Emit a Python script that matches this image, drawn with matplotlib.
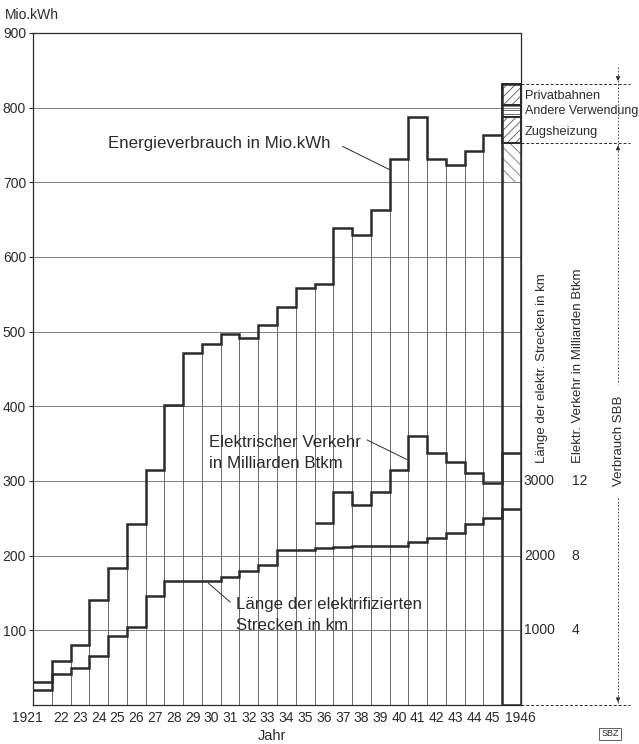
import numpy as np
import matplotlib
matplotlib.use("Agg")
import matplotlib.pyplot as plt

plt.rcParams["font.family"] = ["Liberation Sans", "DejaVu Sans"]
plt.rcParams["hatch.linewidth"] = 0.6

# --- data ---
years = list(range(1921, 1947))
year_labels = ["1921"] + [str(y)[2:] for y in range(1922, 1946)] + ["1946"]

# Energieverbrauch in Mio. kWh, 1921-1945
energy = [31, 59, 80, 140, 184, 243, 315, 402, 471, 484, 497, 491, 509,
          533, 558, 564, 639, 630, 663, 731, 787, 731, 723, 742, 764]

# Laenge der elektrifizierten Strecken in km, 1921-1946
length_km = [200, 415, 490, 656, 920, 1050, 1460, 1660, 1660, 1660, 1720,
             1800, 1870, 2075, 2075, 2100, 2120, 2130, 2130, 2130, 2186,
             2230, 2300, 2420, 2507, 2630]

# Elektrischer Verkehr in Milliarden Btkm, 1936-1946
traffic_start = 1936
traffic_btkm = [9.76, 11.4, 10.7, 11.4, 12.6, 14.4, 13.5, 13.0, 12.45, 11.9, 13.5]

# 1946 split of the consumption (Mio. kWh)
parts_1946 = ["Verbrauch SBB", "Zugsheizung", "Andere Verwendung", "Privatbahnen"]
values_1946 = [753, 35, 16, 28]
hatches_1946 = [None, "////", "----", "////"]

right_km = [1000, 2000, 3000]
right_btkm = [4, 8, 12]

ink = "#2b2b2b"
thin = "#6a6a6a"

fig = plt.figure(figsize=(6.39, 7.44), dpi=100)
ax = fig.add_axes([33 / 639, 39 / 744, 488 / 639, 672 / 744])
ax.set_xlim(0, 26)
ax.set_ylim(0, 900)

# horizontal grid
for v in range(100, 900, 100):
    ax.axhline(v, color=thin, lw=0.6, zorder=0)

n = len(energy)
edges = np.arange(n + 1)
# thin column outlines + thick top line
ax.bar(np.arange(n) + 0.5, energy, width=1, fill=False, edgecolor=thin, lw=0.6, zorder=1)
ax.stairs(energy, edges, baseline=None, color=ink, lw=1.8, zorder=3)

# length (1000 km = 100 on left scale)
ax.stairs(np.array(length_km) / 10, np.arange(len(length_km) + 1),
          baseline=None, color=ink, lw=1.8, zorder=3)

# traffic (4 Mrd Btkm = 100 on left scale)
i0 = traffic_start - years[0]
ax.stairs(np.array(traffic_btkm) * 25, np.arange(i0, i0 + len(traffic_btkm) + 1),
          baseline=None, color=ink, lw=1.8, zorder=3)

# 1946 column
x46 = n + 0.5
bottoms = np.cumsum([0] + values_1946[:-1])
for val, bot, h in zip(values_1946, bottoms, hatches_1946):
    if h:
        ax.bar(x46, val, bottom=bot, width=1, facecolor="none", edgecolor="#555555",
               hatch=h, lw=0, zorder=2)
        ax.bar(x46, val, bottom=bot, width=1, fill=False, edgecolor=ink, lw=1.4, zorder=3)
ax.bar(x46, 53, bottom=values_1946[0] - 53, width=1, facecolor="none",
       edgecolor="#777777", hatch="\\\\\\", lw=0, zorder=2)
total46 = sum(values_1946)
ax.bar(x46, total46, width=1, fill=False, edgecolor=ink, lw=1.8, zorder=4)

# spines / ticks
for s in ax.spines.values():
    s.set_color(ink)
    s.set_linewidth(0.9)
ax.set_yticks(range(100, 1000, 100))
ax.set_yticklabels([str(v) for v in range(100, 1000, 100)])
ax.tick_params(axis="y", length=3, pad=2, labelsize=10, colors=ink)
ax.set_xticks([])

for i, lab in enumerate(year_labels):
    if i == 0:
        ax.text(0.5, -17, lab, ha="right", va="center", fontsize=10, color=ink, clip_on=False)
    elif i == len(year_labels) - 1:
        ax.text(25.15, -17, lab, ha="left", va="center", fontsize=10, color=ink, clip_on=False)
    else:
        ax.text(i + 0.5, -17, lab, ha="center", va="center", fontsize=10, color=ink, clip_on=False)

# right-hand scales
for km, bt in zip(right_km, right_btkm):
    y = km / 10
    ax.text(26.15, y, str(km), ha="left", va="center", fontsize=10, color=ink, clip_on=False)
    ax.text(28.7, y, str(bt), ha="left", va="center", fontsize=10, color=ink, clip_on=False)

ax.text(27.1, 451, "Länge der elektr. Strecken in km", rotation=90, ha="center",
        va="center", fontsize=9.5, color=ink, clip_on=False)
ax.text(29.05, 454, "Elektr. Verkehr in Milliarden Btkm", rotation=90, ha="center",
        va="center", fontsize=9.5, color=ink, clip_on=False)
ax.text(31.2, 354, "Verbrauch SBB", rotation=90, ha="center", va="center",
        fontsize=9.5, color=ink, clip_on=False)

# dimension lines
xd = 31.17
dash = dict(color=ink, lw=0.7, ls=(0, (3, 2)), clip_on=False)
ax.plot([26, 31.8], [total46, total46], **dash)
ax.plot([26, 31.8], [values_1946[0], values_1946[0]], **dash)
ax.plot([26, 31.8], [0, 0], **dash)
ax.plot([xd, xd], [855, 430], color=ink, lw=0.6, ls=(0, (2, 2)), clip_on=False)
ax.plot([xd, xd], [277, 0], color=ink, lw=0.6, ls=(0, (2, 2)), clip_on=False)
arr = dict(arrowstyle="-|>", color=ink, lw=0.6, mutation_scale=6)
ax.annotate("", xy=(xd, total46), xytext=(xd, total46 + 14), arrowprops=arr, annotation_clip=False)
ax.annotate("", xy=(xd, values_1946[0]), xytext=(xd, values_1946[0] - 14), arrowprops=arr, annotation_clip=False)
ax.annotate("", xy=(xd, 0), xytext=(xd, 14), arrowprops=arr, annotation_clip=False)

# 1946 legend
ax.text(26.2, 816, "Privatbahnen", ha="left", va="center", fontsize=9.2, color=ink, clip_on=False)
ax.text(26.2, 795, "Andere Verwendung", ha="left", va="center", fontsize=9.0, color=ink, clip_on=False)
ax.text(26.2, 768, "Zugsheizung", ha="left", va="center", fontsize=9.2, color=ink, clip_on=False)

# annotations with leader lines
ax.text(4.0, 752, "Energieverbrauch in Mio.kWh", ha="left", va="center", fontsize=12.2, color=ink)
ax.plot([16.5, 19.0], [748, 717], color=ink, lw=0.7)
ax.text(9.4, 351, "Elektrischer Verkehr", ha="left", va="center", fontsize=12.2, color=ink)
ax.text(9.4, 324, "in Milliarden Btkm", ha="left", va="center", fontsize=12.2, color=ink)
ax.plot([17.8, 19.9], [355, 329], color=ink, lw=0.7)
ax.text(10.8, 135, "Länge der elektrifizierten", ha="left", va="center", fontsize=12.2, color=ink)
ax.text(10.8, 107, "Strecken in km", ha="left", va="center", fontsize=12.2, color=ink)
ax.plot([10.5, 9.35], [138, 163], color=ink, lw=0.7)

fig.text(5 / 639, 1 - 15 / 744, "Mio.kWh", ha="left", va="center", fontsize=10, color=ink)
fig.text(272 / 639, 1 - 736 / 744, "Jahr", ha="center", va="center", fontsize=10.5, color=ink)
fig.text(610 / 639, 1 - 734 / 744, "SBZ", ha="center", va="center", fontsize=6.5, color=ink,
         bbox=dict(boxstyle="square,pad=0.2", fc="none", ec="#444444", lw=0.6))

fig.savefig("out.png", dpi=100)
